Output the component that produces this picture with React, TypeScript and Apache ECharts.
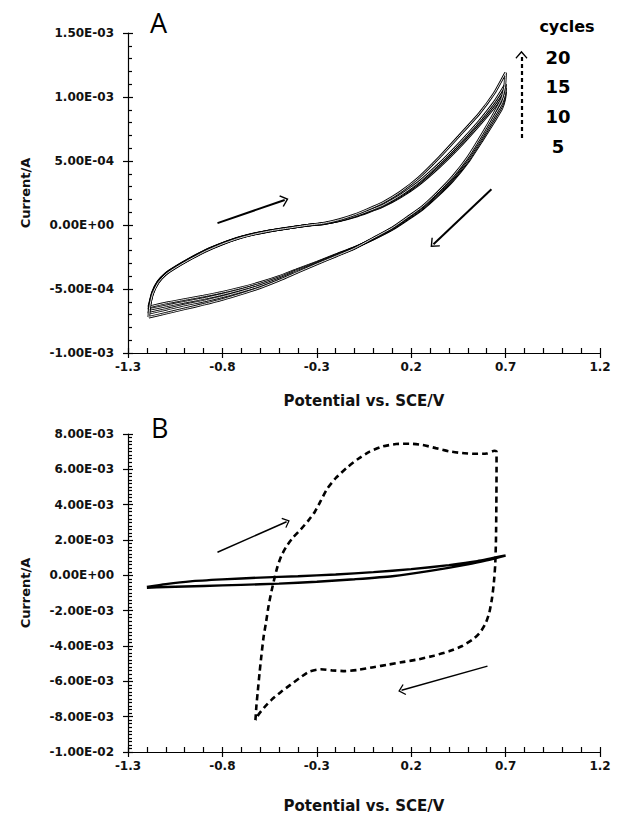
import React, { useEffect, useRef } from "react";
import * as echarts from "echarts";

// ---------- data ----------
const potentialTicks = [-1.3, -0.8, -0.3, 0.2, 0.7, 1.2];
const potentialMinorTicks = [
  -1.3, -1.2, -1.1, -1.0, -0.9, -0.8, -0.7, -0.6, -0.5, -0.4, -0.3, -0.2, -0.1,
  0, 0.1, 0.2, 0.3, 0.4, 0.5, 0.6, 0.7, 0.8, 0.9, 1.0, 1.1, 1.2,
];
const cycleLabels = ["20", "15", "10", "5"];

// Panel A: potential (V) vs current (A), forward scan then reverse scan
const cycle20 = [
  [-1.19, -7.2e-4], [-1.185, -6.4e-4], [-1.17, -5.4e-4], [-1.14, -4.5e-4], [-1.1, -3.85e-4],
  [-1.05, -3.35e-4], [-0.98, -2.75e-4], [-0.89, -2.05e-4], [-0.8, -1.48e-4], [-0.71, -1.02e-4],
  [-0.62, -0.68e-4], [-0.53, -0.42e-4], [-0.44, -0.22e-4], [-0.35, -0.02e-4], [-0.26, 0.15e-4],
  [-0.18, 0.42e-4], [-0.1, 0.8e-4], [-0.03, 1.22e-4], [0.05, 1.75e-4], [0.14, 2.55e-4],
  [0.24, 3.7e-4], [0.35, 5.3e-4], [0.45, 6.9e-4], [0.56, 8.7e-4], [0.64, 1.03e-3], [0.7, 1.19e-3],
  [0.695, 1.08e-3], [0.68, 9.9e-4], [0.64, 8.75e-4], [0.58, 7.2e-4], [0.5, 5.3e-4], [0.42, 3.78e-4],
  [0.34, 2.55e-4], [0.26, 1.45e-4], [0.18, 0.6e-4], [0.1, -0.22e-4], [0.0, -1.02e-4],
  [-0.1, -1.82e-4], [-0.2, -2.44e-4], [-0.3, -3.05e-4], [-0.4, -3.68e-4], [-0.5, -4.32e-4],
  [-0.6, -4.9e-4], [-0.7, -5.38e-4], [-0.8, -5.82e-4], [-0.9, -6.2e-4], [-1.0, -6.55e-4],
  [-1.1, -6.9e-4], [-1.19, -7.2e-4],
];
const cycle15 = [
  [-1.19, -6.9e-4], [-1.185, -6.3e-4], [-1.17, -5.35e-4], [-1.14, -4.45e-4], [-1.1, -3.82e-4],
  [-1.05, -3.32e-4], [-0.98, -2.72e-4], [-0.89, -2.02e-4], [-0.8, -1.46e-4], [-0.71, -1.0e-4],
  [-0.62, -0.67e-4], [-0.53, -0.42e-4], [-0.44, -0.22e-4], [-0.35, -0.03e-4], [-0.26, 0.12e-4],
  [-0.18, 0.36e-4], [-0.1, 0.7e-4], [-0.03, 1.08e-4], [0.05, 1.55e-4], [0.14, 2.3e-4],
  [0.24, 3.35e-4], [0.35, 4.8e-4], [0.45, 6.3e-4], [0.56, 8.1e-4], [0.64, 9.6e-4], [0.7, 1.1e-3],
  [0.695, 1.02e-3], [0.68, 9.5e-4], [0.64, 8.5e-4], [0.58, 7.0e-4], [0.5, 5.15e-4], [0.42, 3.65e-4],
  [0.34, 2.45e-4], [0.26, 1.38e-4], [0.18, 0.55e-4], [0.1, -0.25e-4], [0.0, -1.05e-4],
  [-0.1, -1.8e-4], [-0.2, -2.4e-4], [-0.3, -3.0e-4], [-0.4, -3.6e-4], [-0.5, -4.22e-4],
  [-0.6, -4.75e-4], [-0.7, -5.2e-4], [-0.8, -5.6e-4], [-0.9, -5.95e-4], [-1.0, -6.25e-4],
  [-1.1, -6.6e-4], [-1.19, -6.9e-4],
];
const cycle10 = [
  [-1.19, -6.6e-4], [-1.185, -6.2e-4], [-1.17, -5.3e-4], [-1.14, -4.42e-4], [-1.1, -3.8e-4],
  [-1.05, -3.3e-4], [-0.98, -2.7e-4], [-0.89, -2.0e-4], [-0.8, -1.45e-4], [-0.71, -0.99e-4],
  [-0.62, -0.66e-4], [-0.53, -0.41e-4], [-0.44, -0.21e-4], [-0.35, -0.02e-4], [-0.26, 0.12e-4],
  [-0.18, 0.35e-4], [-0.1, 0.68e-4], [-0.03, 1.05e-4], [0.05, 1.5e-4], [0.14, 2.22e-4],
  [0.24, 3.25e-4], [0.35, 4.68e-4], [0.45, 6.15e-4], [0.56, 7.95e-4], [0.64, 9.4e-4], [0.7, 1.07e-3],
  [0.695, 1.0e-3], [0.68, 9.3e-4], [0.64, 8.3e-4], [0.58, 6.85e-4], [0.5, 5.0e-4], [0.42, 3.55e-4],
  [0.34, 2.35e-4], [0.26, 1.3e-4], [0.18, 0.48e-4], [0.1, -0.3e-4], [0.0, -1.08e-4],
  [-0.1, -1.78e-4], [-0.2, -2.36e-4], [-0.3, -2.95e-4], [-0.4, -3.52e-4], [-0.5, -4.12e-4],
  [-0.6, -4.62e-4], [-0.7, -5.05e-4], [-0.8, -5.42e-4], [-0.9, -5.75e-4], [-1.0, -6.03e-4],
  [-1.1, -6.33e-4], [-1.19, -6.6e-4],
];
const cycle5 = [
  [-1.19, -6.4e-4], [-1.185, -6.1e-4], [-1.17, -5.25e-4], [-1.14, -4.4e-4], [-1.1, -3.78e-4],
  [-1.05, -3.28e-4], [-0.98, -2.68e-4], [-0.89, -1.98e-4], [-0.8, -1.44e-4], [-0.71, -0.98e-4],
  [-0.62, -0.65e-4], [-0.53, -0.41e-4], [-0.44, -0.21e-4], [-0.35, -0.02e-4], [-0.26, 0.11e-4],
  [-0.18, 0.33e-4], [-0.1, 0.65e-4], [-0.03, 1.0e-4], [0.05, 1.45e-4], [0.14, 2.15e-4],
  [0.24, 3.15e-4], [0.35, 4.55e-4], [0.45, 6.0e-4], [0.56, 7.8e-4], [0.64, 9.2e-4], [0.7, 1.04e-3],
  [0.695, 9.8e-4], [0.68, 9.1e-4], [0.64, 8.1e-4], [0.58, 6.7e-4], [0.5, 4.9e-4], [0.42, 3.45e-4],
  [0.34, 2.28e-4], [0.26, 1.24e-4], [0.18, 0.42e-4], [0.1, -0.35e-4], [0.0, -1.1e-4],
  [-0.1, -1.75e-4], [-0.2, -2.32e-4], [-0.3, -2.9e-4], [-0.4, -3.45e-4], [-0.5, -4.02e-4],
  [-0.6, -4.5e-4], [-0.7, -4.9e-4], [-0.8, -5.25e-4], [-0.9, -5.55e-4], [-1.0, -5.82e-4],
  [-1.1, -6.1e-4], [-1.19, -6.4e-4],
];

// Panel B
const solidLoop = [
  [-1.2, -0.66e-3], [-1.1, -0.5e-3], [-0.97, -0.34e-3], [-0.8, -0.23e-3], [-0.6, -0.13e-3],
  [-0.4, -0.05e-3], [-0.2, 0.05e-3], [0.0, 0.18e-3], [0.2, 0.35e-3], [0.4, 0.58e-3],
  [0.55, 0.8e-3], [0.7, 1.12e-3], [0.6, 0.85e-3], [0.5, 0.62e-3], [0.3, 0.25e-3],
  [0.1, -0.05e-3], [-0.1, -0.22e-3], [-0.3, -0.36e-3], [-0.5, -0.47e-3], [-0.7, -0.54e-3],
  [-0.9, -0.6e-3], [-1.1, -0.66e-3], [-1.2, -0.7e-3],
];
const dashedForward = [
  [-0.625, -8.2e-3], [-0.62, -7.4e-3], [-0.612, -6.5e-3], [-0.603, -5.5e-3], [-0.593, -4.5e-3],
  [-0.582, -3.5e-3], [-0.568, -2.6e-3], [-0.555, -1.7e-3], [-0.54, -0.9e-3], [-0.525, -0.2e-3],
  [-0.508, 0.5e-3], [-0.488, 1.1e-3], [-0.46, 1.65e-3], [-0.425, 2.15e-3], [-0.385, 2.6e-3],
  [-0.345, 3.1e-3], [-0.31, 3.6e-3], [-0.28, 4.2e-3], [-0.245, 4.9e-3], [-0.2, 5.5e-3],
  [-0.14, 6.1e-3], [-0.08, 6.6e-3], [-0.02, 7.0e-3], [0.05, 7.3e-3], [0.12, 7.43e-3],
  [0.19, 7.45e-3], [0.26, 7.38e-3], [0.33, 7.2e-3], [0.4, 7.02e-3], [0.47, 6.92e-3],
  [0.54, 6.88e-3], [0.6, 6.9e-3], [0.64, 7.05e-3], [0.652, 7.0e-3],
];
const dashedReverse = [
  [0.652, 7.0e-3], [0.652, 6.0e-3], [0.651, 4.0e-3], [0.649, 2.0e-3], [0.645, 0.6e-3],
  [0.638, -0.4e-3], [0.628, -1.3e-3], [0.614, -2.1e-3], [0.595, -2.7e-3], [0.567, -3.2e-3],
  [0.53, -3.6e-3], [0.47, -4.0e-3], [0.4, -4.3e-3], [0.32, -4.55e-3], [0.24, -4.75e-3],
  [0.16, -4.9e-3], [0.08, -5.05e-3], [0.0, -5.2e-3], [-0.08, -5.35e-3], [-0.15, -5.42e-3],
  [-0.22, -5.38e-3], [-0.28, -5.32e-3], [-0.34, -5.45e-3], [-0.39, -5.8e-3], [-0.44, -6.2e-3],
  [-0.49, -6.6e-3], [-0.54, -7.05e-3], [-0.58, -7.5e-3], [-0.61, -7.9e-3], [-0.625, -8.2e-3],
];

// annotation arrows [from, to] in data units
const arrowsA = [
  [[-0.826, 0.15e-4], [-0.47, 1.95e-4]],
  [[0.625, 2.8e-4], [0.318, -1.5e-4]],
];
const cycleArrowA = [[0.784, 6.8e-4], [0.784, 1.33e-3]];
const arrowsB = [
  [[-0.826, 1.31e-3], [-0.46, 3.03e-3]],
  [[0.604, -5.14e-3], [0.149, -6.51e-3]],
];

// ---------- helpers ----------
const FONT = "DejaVu Sans";
const textStyle = { color: "#111", fontFamily: FONT, fontWeight: "bold" as const, fontSize: 12 };
const chevron = "path://M0,0 L10,9 L8.6,10.4 L0,2.8 L-8.6,10.4 L-10,9 Z";
const tickLine = { color: "#000", width: 1.2 };

function sci(v: number): string {
  if (Math.abs(v) < 1e-12) return "0.00E+00";
  const [m, e] = v.toExponential(2).split("e");
  const n = parseInt(e, 10);
  return m + "E" + (n < 0 ? "-" : "+") + String(Math.abs(n)).padStart(2, "0");
}

const GRID_LEFT = 128;
const GRID_W = 472;
const A_TOP = 33;
const A_H = 320;
const B_TOP = 434;
const B_H = 318;

// main axes: inward major + minor ticks, labels; twin axes: outward half of the major ticks
function yAxes(mainGrid: number, twinGrid: number, min: number, max: number, interval: number, minorSplit: number, nameGap: number) {
  return [
    {
      type: "value", gridIndex: mainGrid, position: "left", min, max, interval,
      axisLine: { show: true, onZero: false, lineStyle: { color: "#000", width: 1.2 } },
      axisTick: { show: true, inside: true, length: 5, lineStyle: tickLine },
      minorTick: { show: true, splitNumber: minorSplit, length: 4, lineStyle: tickLine },
      axisLabel: { formatter: sci, margin: 14, ...textStyle },
      splitLine: { show: false },
      minorSplitLine: { show: false },
      name: "Current/A", nameLocation: "middle", nameRotate: 90, nameGap,
      nameTextStyle: { ...textStyle, fontSize: 13 },
    },
    {
      type: "value", gridIndex: twinGrid, position: "left", min, max, interval,
      axisLine: { show: false, onZero: false },
      axisTick: { show: true, inside: false, length: 5, lineStyle: tickLine },
      axisLabel: { show: false },
      splitLine: { show: false },
    },
  ];
}

function xAxes(mainGrid: number, twinGrid: number, nameGap: number) {
  return [
    {
      type: "value", gridIndex: mainGrid, position: "bottom", min: -1.3, max: 1.2,
      axisLine: { show: true, onZero: false, lineStyle: { color: "#000", width: 1.2 } },
      axisTick: { show: true, inside: true, length: 5, customValues: potentialMinorTicks, lineStyle: tickLine },
      axisLabel: { customValues: potentialTicks, formatter: (v: number) => v.toFixed(1), margin: 8, ...textStyle },
      splitLine: { show: false },
      name: "Potential vs. SCE/V", nameLocation: "middle", nameGap,
      nameTextStyle: { ...textStyle, fontSize: 15 },
    },
    {
      type: "value", gridIndex: twinGrid, position: "bottom", min: -1.3, max: 1.2,
      axisLine: { show: false, onZero: false },
      axisTick: { show: true, inside: false, length: 5, customValues: potentialTicks, lineStyle: tickLine },
      axisLabel: { show: false },
      splitLine: { show: false },
    },
  ];
}

function hollowSeries(data: number[][]) {
  const base = {
    type: "line", xAxisIndex: 0, yAxisIndex: 0, data, showSymbol: false, symbol: "none",
    smooth: 0.2, silent: true, animation: false,
  };
  return [
    { ...base, lineStyle: { color: "#000", width: 2.6 } },
    { ...base, lineStyle: { color: "#fff", width: 0.9 } },
  ];
}

const arrowLine = (pair: number[][], extra: any = {}) => [{ coord: pair[0], ...extra }, { coord: pair[1] }];

function buildOption() {
  const cycles = [cycle5, cycle10, cycle15, cycle20];
  const seriesA: any[] = [];
  cycles.forEach((c) => seriesA.push(...hollowSeries(c)));
  seriesA.push({
    type: "line", xAxisIndex: 0, yAxisIndex: 0, data: [], silent: true,
    markLine: {
      silent: true, symbol: ["none", chevron], symbolSize: [12, 8], label: { show: false },
      emphasis: { disabled: true }, animation: false,
      lineStyle: { color: "#000", width: 2, type: "solid" },
      data: [
        ...arrowsA.map((p) => arrowLine(p)),
        arrowLine(cycleArrowA, { lineStyle: { color: "#000", width: 2.2, type: [4, 3] } }),
      ],
    },
  });

  const seriesB: any[] = [
    {
      type: "line", xAxisIndex: 2, yAxisIndex: 2, data: solidLoop, showSymbol: false, symbol: "none",
      smooth: 0.2, silent: true, lineStyle: { color: "#000", width: 2.4 },
    },
    {
      type: "line", xAxisIndex: 2, yAxisIndex: 2, data: [...dashedForward, ...dashedReverse.slice(1)],
      showSymbol: false, symbol: "none", smooth: 0.2, silent: true,
      lineStyle: { color: "#000", width: 2.6, type: [6, 4] },
      markLine: {
        silent: true, symbol: ["none", chevron], symbolSize: [11, 7], label: { show: false },
        emphasis: { disabled: true }, animation: false,
        lineStyle: { color: "#000", width: 1.5, type: "solid" },
        data: arrowsB.map((p) => arrowLine(p)),
      },
    },
  ];

  const labelFont = `bold 18px "${FONT}"`;
  const cycleY = [57, 86, 116, 146];
  const graphic: any[] = [
    { type: "text", left: 150, top: 9, style: { text: "A", font: '27px "Open Sans"', fill: "#000" } },
    { type: "text", left: 151, top: 414, style: { text: "B", font: '27px "Open Sans"', fill: "#000" } },
    { type: "text", x: 567, y: 26, style: { text: "cycles", font: `bold 16px "${FONT}"`, fill: "#000", align: "center", verticalAlign: "middle" } },
    ...cycleLabels.map((t, i) => ({
      type: "text", x: 558, y: cycleY[i],
      style: { text: t, font: labelFont, fill: "#000", align: "center", verticalAlign: "middle" },
    })),
  ];

  const gA = { left: GRID_LEFT, width: GRID_W, top: A_TOP, height: A_H };
  const gB = { left: GRID_LEFT, width: GRID_W, top: B_TOP, height: B_H };

  return {
    animation: false,
    backgroundColor: "#fff",
    grid: [gA, gB, { ...gA }, { ...gB }],
    // xAxis: 0 = A main, 1 = A twin, 2 = B main, 3 = B twin
    xAxis: [...xAxes(0, 2, 40), ...xAxes(1, 3, 46)],
    yAxis: [
      ...yAxes(0, 2, -1e-3, 1.5e-3, 5e-4, 5, 96),
      ...yAxes(1, 3, -1e-2, 8e-3, 2e-3, 10, 96),
    ],
    series: [...seriesA, ...seriesB],
    graphic,
  };
}

export default function App() {
  const ref = useRef<HTMLDivElement>(null);
  useEffect(() => {
    if (!ref.current) return;
    const chart = echarts.init(ref.current, null, { renderer: "svg" });
    chart.setOption(buildOption() as any);
    return () => chart.dispose();
  }, []);
  return (
    <div
      ref={ref}
      style={{ position: "fixed", left: 0, top: 0, width: 617, height: 818, background: "#fff" }}
    />
  );
}
